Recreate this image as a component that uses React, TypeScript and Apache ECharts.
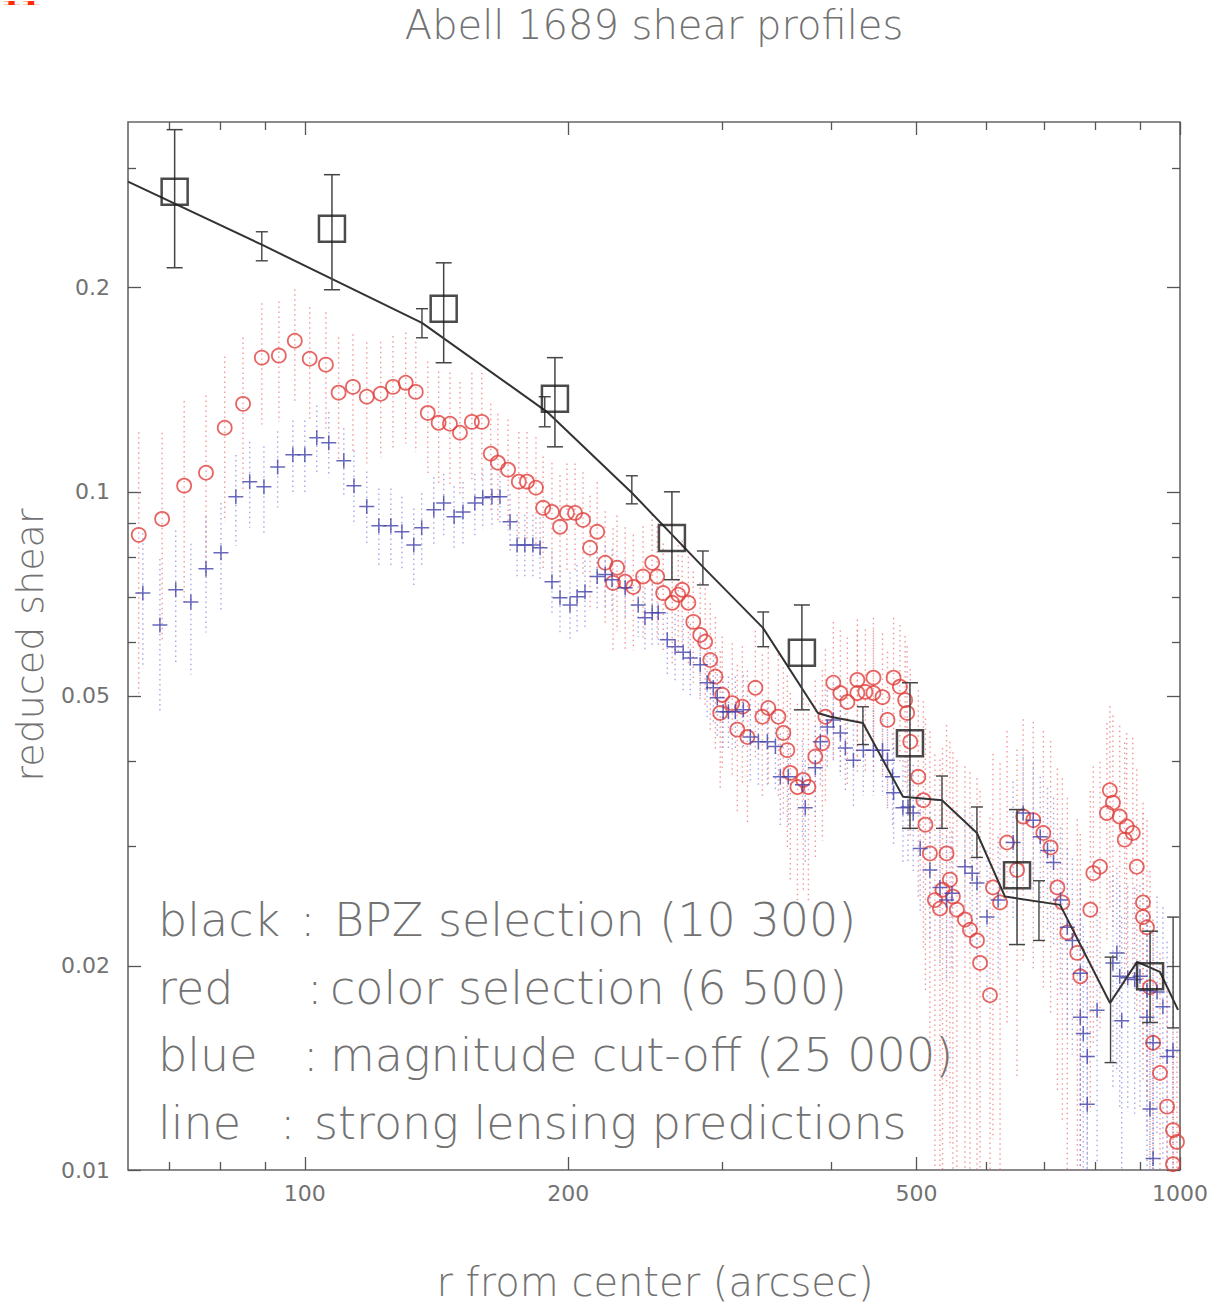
import React, { useEffect, useRef } from "react";
import * as echarts from "echarts";

// Abell 1689 reduced shear profiles, log-log.

// Axis ranges (r in arcsec, reduced shear)
const R_MIN = 62.8;
const R_MAX = 1000;
const G_MIN = 0.01;
const G_MAX = 0.351;

// Tick values
const xMajorTicks = [100, 200, 500, 1000];
const xMinorTicks = [70, 80, 90, 300, 400, 600, 700, 800, 900];
const yMajorTicks = [0.01, 0.02, 0.05, 0.1, 0.2];
const yMinorTicks = [0.03, 0.04, 0.06, 0.07, 0.08, 0.09, 0.3];

// Red: color selection
const redR = [
  64.6, 68.7, 72.8, 77.1, 81.0, 85.0, 89.3, 93.4, 97.4, 101.3,
  105.7, 109.3, 113.5, 117.7, 122.1, 126.1, 130.4, 133.9, 138.2, 142.2,
  146.5, 150.4, 155.2, 159.3, 163.1, 166.2, 170.7, 175.6, 179.4, 183.7,
  187.2, 191.6, 195.7, 199.3, 203.6, 207.9, 211.8, 215.8, 220.4, 225.0,
  227.4, 232.3, 237.3, 243.5, 249.4, 252.7, 256.7, 262.9, 267.1, 269.9,
  274.3, 277.9, 283.0, 286.7, 290.6, 294.5, 298.3, 299.9, 307.9, 312.0,
  316.2, 320.4, 327.2, 333.3, 338.5, 347.6, 352.2, 355.9, 358.7, 365.5,
  371.2, 376.2, 383.1, 390.3, 393.4, 401.7, 409.2, 416.8, 427.9, 427.9,
  437.0, 446.4, 446.4, 457.2, 463.2, 470.7, 478.6, 485.2, 487.8, 491.8,
  502.3, 509.1, 511.8, 517.9, 524.7, 531.8, 535.4, 541.1, 545.9, 550.2,
  556.0, 567.9, 575.4, 586.2, 590.9, 606.6, 611.4, 622.9, 634.4, 651.4,
  661.9, 679.7, 698.0, 711.5, 724.3, 733.8, 743.4, 763.2, 769.3, 789.8,
  796.1, 810.2, 825.0, 831.5, 838.2, 853.3, 864.6, 869.1, 883.2, 892.5,
  907.2, 907.2, 916.8, 924.0, 931.6, 948.7, 966.6, 981.8, 992.1, 981.8,
];
const redG = [
  0.0864, 0.0912, 0.1021, 0.1067, 0.1243, 0.1348, 0.1577, 0.1588, 0.167, 0.1571,
  0.154, 0.14, 0.1428, 0.1381, 0.1395, 0.1428, 0.1448, 0.1404, 0.1307, 0.1264,
  0.126, 0.1222, 0.1268, 0.1268, 0.1138, 0.1104, 0.1078, 0.1035, 0.1035, 0.1014,
  0.0947, 0.0934, 0.0888, 0.0931, 0.0931, 0.0909, 0.0827, 0.0873, 0.0786, 0.0734,
  0.0773, 0.0737, 0.0724, 0.075, 0.0786, 0.075, 0.0709, 0.0686, 0.0705, 0.0717,
  0.0686, 0.0643, 0.0615, 0.0601, 0.0565, 0.0534, 0.0472, 0.0502, 0.0488, 0.0446,
  0.0482, 0.0435, 0.0514, 0.0466, 0.048, 0.0466, 0.0441, 0.0416, 0.0385, 0.0367,
  0.0376, 0.0367, 0.0407, 0.0426, 0.0466, 0.0523, 0.0505, 0.049, 0.0528, 0.0505,
  0.0507, 0.0532, 0.0505, 0.0498, 0.0461, 0.0532, 0.0516, 0.0493, 0.0472, 0.0428,
  0.038, 0.0351, 0.0323, 0.0293, 0.025, 0.0243, 0.0259, 0.0293, 0.0268, 0.0253,
  0.0242, 0.0234, 0.0226, 0.0218, 0.0202, 0.0181, 0.0261, 0.0248, 0.0304, 0.0277,
  0.0332, 0.0328, 0.0314, 0.0299, 0.0261, 0.0248, 0.0224, 0.0209, 0.0193, 0.0242,
  0.0274, 0.028, 0.0336, 0.0363, 0.0348, 0.0332, 0.0307, 0.0321, 0.0314, 0.028,
  0.0248, 0.0236, 0.0228, 0.0186, 0.0154, 0.0139, 0.0124, 0.01145, 0.011, 0.0102,
];
const redErr = [
  0.036, 0.031, 0.034, 0.032, 0.034, 0.034, 0.032, 0.032, 0.032, 0.03,
  0.03, 0.029, 0.028, 0.028, 0.027, 0.027, 0.027, 0.026, 0.025, 0.024,
  0.024, 0.023, 0.023, 0.023, 0.021, 0.02, 0.02, 0.019, 0.019, 0.019,
  0.018, 0.017, 0.017, 0.017, 0.017, 0.016, 0.016, 0.016, 0.015, 0.015,
  0.015, 0.015, 0.014, 0.014, 0.014, 0.014, 0.013, 0.013, 0.013, 0.013,
  0.013, 0.012, 0.012, 0.012, 0.012, 0.012, 0.011, 0.011, 0.011, 0.011,
  0.011, 0.011, 0.011, 0.011, 0.011, 0.011, 0.011, 0.012, 0.012, 0.012,
  0.012, 0.012, 0.012, 0.012, 0.012, 0.012, 0.012, 0.012, 0.012, 0.012,
  0.012, 0.012, 0.012, 0.012, 0.012, 0.012, 0.012, 0.012, 0.012, 0.012,
  0.013, 0.014, 0.014, 0.015, 0.016, 0.016, 0.016, 0.016, 0.016, 0.016,
  0.016, 0.016, 0.016, 0.016, 0.016, 0.015, 0.015, 0.015, 0.014, 0.014,
  0.013, 0.013, 0.013, 0.013, 0.013, 0.013, 0.013, 0.012, 0.012, 0.012,
  0.012, 0.012, 0.012, 0.012, 0.012, 0.012, 0.012, 0.012, 0.012, 0.011,
  0.01, 0.01, 0.01, 0.009, 0.008, 0.007, 0.006, 0.005, 0.005, 0.005,
];

// Blue: magnitude cut-off
const blueR = [
  65.3, 68.3, 71.2, 74.1, 77.1, 80.2, 83.4, 86.5, 89.8, 93.1,
  96.9, 100.0, 103.2, 106.5, 110.8, 113.8, 117.7, 121.5, 125.4, 129.1,
  133.2, 136.0, 140.4, 144.1, 148.1, 151.6, 156.4, 159.7, 163.6, 167.1,
  171.6, 174.8, 178.4, 182.2, 185.7, 191.6, 195.7, 200.9, 204.7, 209.0,
  215.8, 220.4, 224.4, 232.3, 240.4, 244.7, 249.4, 253.4, 259.5, 264.9,
  270.6, 275.7, 283.0, 288.2, 292.9, 296.0, 300.6, 304.8, 310.4, 317.0,
  322.9, 329.8, 337.7, 344.9, 349.4, 356.8, 370.3, 373.1, 383.1, 388.2,
  395.4, 401.7, 409.2, 414.6, 423.5, 434.7, 446.4, 457.2, 463.2, 469.4,
  470.7, 482.4, 488.9, 495.6, 504.8, 517.9, 531.8, 541.1, 548.8, 567.9,
  578.8, 586.2, 601.8, 619.7, 644.6, 661.9, 679.7, 692.3, 705.7, 717.0,
  730.2, 743.4, 753.4, 769.3, 769.3, 775.3, 783.5, 783.5, 804.0, 838.2,
  847.0, 853.3, 857.8, 871.5, 887.6, 900.0, 916.8, 916.8, 931.6, 941.4,
  956.0, 966.6, 981.8, 924.0, 931.6,
];
const blueG = [
  0.0709, 0.0636, 0.0717, 0.0688, 0.077, 0.0813, 0.0983, 0.1035, 0.1017, 0.1088,
  0.1134, 0.1134, 0.1201, 0.1181, 0.1111, 0.1021, 0.0951, 0.0891, 0.0891, 0.0873,
  0.0835, 0.0885, 0.0941, 0.0963, 0.0919, 0.0934, 0.0963, 0.098, 0.0983, 0.0983,
  0.0903, 0.0835, 0.0835, 0.0835, 0.0827, 0.0737, 0.0698, 0.0681, 0.07, 0.0712,
  0.075, 0.0755, 0.0742, 0.0722, 0.0681, 0.0652, 0.0663, 0.0663, 0.0605, 0.0591,
  0.058, 0.0569, 0.0556, 0.0523, 0.0514, 0.0497, 0.0474, 0.0474, 0.0474, 0.0477,
  0.0435, 0.0428, 0.0428, 0.0421, 0.038, 0.038, 0.037, 0.0342, 0.0392, 0.0428,
  0.045, 0.0461, 0.0441, 0.0419, 0.0402, 0.0416, 0.0416, 0.0416, 0.0402, 0.038,
  0.036, 0.0342, 0.0343, 0.0336, 0.0298, 0.0277, 0.0261, 0.025, 0.0256, 0.028,
  0.0274, 0.0265, 0.0236, 0.025, 0.0304, 0.0336, 0.0328, 0.031, 0.0296, 0.0284,
  0.025, 0.0228, 0.0218, 0.0195, 0.0168, 0.0159, 0.0147, 0.0125, 0.0172, 0.0202,
  0.0209, 0.0193, 0.0166, 0.0192, 0.0191, 0.0193, 0.0184, 0.0168, 0.0154, 0.0183,
  0.0174, 0.0147, 0.015, 0.0123, 0.0104,
];
const blueErr = [
  0.016, 0.016, 0.016, 0.015, 0.015, 0.015, 0.015, 0.015, 0.015, 0.014,
  0.014, 0.014, 0.014, 0.013, 0.013, 0.013, 0.012, 0.012, 0.012, 0.011,
  0.011, 0.011, 0.011, 0.01, 0.01, 0.01, 0.01, 0.01, 0.01, 0.009,
  0.009, 0.009, 0.009, 0.009, 0.009, 0.008, 0.008, 0.008, 0.008, 0.008,
  0.008, 0.008, 0.008, 0.007, 0.007, 0.007, 0.007, 0.007, 0.007, 0.007,
  0.007, 0.007, 0.006, 0.006, 0.006, 0.006, 0.006, 0.006, 0.006, 0.006,
  0.006, 0.006, 0.006, 0.006, 0.006, 0.006, 0.006, 0.006, 0.006, 0.006,
  0.006, 0.006, 0.006, 0.006, 0.006, 0.006, 0.006, 0.006, 0.006, 0.006,
  0.006, 0.006, 0.006, 0.006, 0.006, 0.006, 0.006, 0.006, 0.006, 0.006,
  0.006, 0.006, 0.006, 0.006, 0.007, 0.007, 0.007, 0.007, 0.007, 0.007,
  0.007, 0.007, 0.007, 0.007, 0.007, 0.007, 0.007, 0.007, 0.007, 0.007,
  0.007, 0.007, 0.007, 0.007, 0.007, 0.007, 0.007, 0.007, 0.007, 0.007,
  0.007, 0.007, 0.006, 0.005, 0.004,
];

// Black: BPZ selection, with upper and lower error limits
const bpzR = [71.0, 107.4, 144.1, 193.1, 262.7, 369.8, 491.4, 651.3, 924.3];
const bpzG = [0.277, 0.2443, 0.1862, 0.1372, 0.0855, 0.0579, 0.0426, 0.0272, 0.0193];
const bpzHi = [0.342, 0.2935, 0.2176, 0.1577, 0.1, 0.0681, 0.0523, 0.034, 0.0225];
const bpzLo = [0.214, 0.1986, 0.155, 0.1165, 0.0742, 0.0477, 0.0319, 0.0215, 0.0165];

// Strong lensing prediction curve
const lensR = [
  62.8, 89.3, 136.1, 189.1, 236.4, 285.0, 333.8, 385.7, 398.6, 434.2,
  482.5, 534.6, 586.1, 631.0, 729.5, 831.8, 893.2, 948.7, 994.8,
];
const lensG = [
  0.2866, 0.2314, 0.1775, 0.1312, 0.0997, 0.0775, 0.063, 0.0472, 0.0466, 0.0456,
  0.0355, 0.0351, 0.0314, 0.0253, 0.0246, 0.01763, 0.02027, 0.01959, 0.01722,
];
// Prediction uncertainties at selected radii
const lensErrR = [89.3, 136.1, 188.0, 236.4, 285.0, 334.0, 434.2, 534.6, 586.1, 690.0, 833.0, 982.0];
const lensErrHi = [0.2418, 0.1862, 0.1381, 0.1056, 0.0818, 0.0665, 0.0482, 0.0381, 0.0343, 0.0267, 0.0206, 0.0236];
const lensErrLo = [0.2191, 0.1687, 0.1247, 0.096, 0.0729, 0.0591, 0.0424, 0.0319, 0.0289, 0.0218, 0.0144, 0.0162];

const L = (v: number) => Math.log10(v);
const clampG = (v: number) => Math.min(Math.max(v, G_MIN), G_MAX);

const FONT = "DejaVu Sans";
const TEXT_GRAY = "#727272";

const pts = (r: number[], g: number[]) => r.map((v, i) => [L(v), L(g[i])]);
const symBars = (r: number[], g: number[], e: number[]) =>
  r.map((v, i) => [L(v), L(clampG(g[i] - e[i])), L(clampG(g[i] + e[i]))]);
const limBars = (r: number[], lo: number[], hi: number[]) =>
  r.map((v, i) => [L(v), L(clampG(lo[i])), L(clampG(hi[i]))]);

const dottedBar = (color: string) => (_p: any, api: any) => {
  const a = api.coord([api.value(0), api.value(2)]);
  const b = api.coord([api.value(0), api.value(1)]);
  return {
    type: "line",
    shape: { x1: a[0], y1: a[1], x2: b[0], y2: b[1] },
    style: { stroke: color, lineWidth: 1.4, lineDash: [1.5, 3.5] },
    silent: true,
  };
};

const cappedBar = (color: string, cap: number, width: number) => (_p: any, api: any) => {
  const a = api.coord([api.value(0), api.value(2)]);
  const b = api.coord([api.value(0), api.value(1)]);
  const style = { stroke: color, lineWidth: width };
  return {
    type: "group",
    silent: true,
    children: [
      { type: "line", shape: { x1: a[0], y1: a[1], x2: b[0], y2: b[1] }, style },
      { type: "line", shape: { x1: a[0] - cap, y1: a[1], x2: a[0] + cap, y2: a[1] }, style },
      { type: "line", shape: { x1: b[0] - cap, y1: b[1], x2: b[0] + cap, y2: b[1] }, style },
    ],
  };
};

const tickStyle = { color: "#555", width: 1.3 };

function xAxisDef(position: string, ticks: number[], len: number, labels: boolean) {
  return {
    type: "value",
    position,
    min: L(R_MIN),
    max: L(R_MAX),
    axisLine: { show: false },
    splitLine: { show: false },
    axisTick: { show: true, inside: true, length: len, customValues: ticks.map(L), lineStyle: tickStyle },
    axisLabel: labels
      ? {
          show: true,
          customValues: ticks.map(L),
          formatter: (v: number) => String(Math.round(Math.pow(10, v))),
          margin: 12,
          fontFamily: FONT,
          fontSize: 22,
          color: TEXT_GRAY,
          showMinLabel: true,
          showMaxLabel: true,
        }
      : { show: false },
  };
}

function yAxisDef(position: string, ticks: number[], len: number, labels: boolean) {
  return {
    type: "value",
    position,
    min: L(G_MIN),
    max: L(G_MAX),
    axisLine: { show: false },
    splitLine: { show: false },
    axisTick: { show: true, inside: true, length: len, customValues: ticks.map(L), lineStyle: tickStyle },
    axisLabel: labels
      ? {
          show: true,
          customValues: ticks.map(L),
          formatter: (v: number) => String(Number(Math.pow(10, v).toPrecision(2))),
          margin: 18,
          fontFamily: FONT,
          fontSize: 22,
          color: TEXT_GRAY,
          showMinLabel: true,
          showMaxLabel: true,
        }
      : { show: false },
  };
}

const legendRows = [
  { key: "black", keyX: 158, colonX: 300, rest: "BPZ selection (10 300)", restX: 334, y: 920 },
  { key: "red", keyX: 158, colonX: 307, rest: "color selection (6 500)", restX: 330, y: 988 },
  { key: "blue", keyX: 158, colonX: 303, rest: "magnitude cut-off (25 000)", restX: 330, y: 1055 },
  { key: "line", keyX: 158, colonX: 280, rest: "strong lensing predictions", restX: 314, y: 1123 },
];

function textEl(text: string, x: number, y: number, size: number, align = "left", extra: any = {}) {
  return {
    type: "text",
    x,
    y,
    silent: true,
    ...extra,
    style: {
      text,
      fontFamily: FONT,
      fontSize: size,
      fontWeight: 200,
      fill: TEXT_GRAY,
      align,
      verticalAlign: "middle",
      ...(extra.style || {}),
    },
  };
}

export default function App() {
  const ref = useRef<HTMLDivElement>(null);

  useEffect(() => {
    if (!ref.current) return;
    const chart = echarts.init(ref.current, undefined, { renderer: "svg" });

    const graphics: any[] = [
      textEl("Abell 1689 shear profiles", 654, 25, 40, "center"),
      textEl("reduced shear", 30, 645, 38, "center", { rotation: Math.PI / 2 }),
      textEl("r from center (arcsec)", 655, 1282, 40, "center"),
      // page number sliver in the top-left corner
      {
        type: "text",
        x: 0,
        y: 3,
        scaleX: 1,
        scaleY: 0.12,
        silent: true,
        style: {
          text: "11",
          fontFamily: "Liberation Serif",
          fontWeight: "bold",
          fontSize: 44,
          fill: "#ff2a00",
          align: "left",
          verticalAlign: "middle",
        },
      },
    ];
    legendRows.forEach((row) => {
      graphics.push(textEl(row.key, row.keyX, row.y, 46));
      graphics.push(textEl(":", row.colonX, row.y, 46));
      graphics.push(textEl(row.rest, row.restX, row.y, 46));
    });

    chart.setOption({
      animation: false,
      backgroundColor: "#ffffff",
      grid: {
        left: 128,
        top: 122,
        right: 38,
        bottom: 136,
        show: true,
        borderColor: "#666",
        borderWidth: 1.6,
        backgroundColor: "transparent",
      },
      xAxis: [
        xAxisDef("bottom", xMajorTicks, 13, true),
        xAxisDef("bottom", xMinorTicks, 8, false),
        xAxisDef("top", xMajorTicks, 13, false),
        xAxisDef("top", xMinorTicks, 8, false),
      ],
      yAxis: [
        yAxisDef("left", yMajorTicks, 13, true),
        yAxisDef("left", yMinorTicks, 8, false),
        yAxisDef("right", yMajorTicks, 13, false),
        yAxisDef("right", yMinorTicks, 8, false),
      ],
      series: [
        {
          name: "red errors",
          type: "custom",
          renderItem: dottedBar("rgba(235,110,110,0.7)"),
          data: symBars(redR, redG, redErr),
          encode: { x: 0, y: [1, 2] },
          silent: true,
          z: 1,
        },
        {
          name: "blue errors",
          type: "custom",
          renderItem: dottedBar("rgba(120,120,220,0.65)"),
          data: symBars(blueR, blueG, blueErr),
          encode: { x: 0, y: [1, 2] },
          silent: true,
          z: 1,
        },
        {
          name: "color selection",
          type: "scatter",
          data: pts(redR, redG),
          symbol: "circle",
          symbolSize: 14,
          itemStyle: { color: "transparent", borderColor: "#e0403c", borderWidth: 1.8 },
          silent: true,
          z: 2,
        },
        {
          name: "magnitude cut-off",
          type: "scatter",
          data: pts(blueR, blueG),
          symbol: "path://M0,6L12,6M6,0L6,12",
          symbolSize: 15,
          itemStyle: { color: "transparent", borderColor: "#4242aa", borderWidth: 1.5 },
          silent: true,
          z: 3,
        },
        {
          name: "strong lensing predictions",
          type: "line",
          data: pts(lensR, lensG),
          showSymbol: false,
          symbol: "none",
          lineStyle: { color: "#333", width: 2 },
          silent: true,
          z: 4,
        },
        {
          name: "prediction errors",
          type: "custom",
          renderItem: cappedBar("#444", 6, 1.4),
          data: limBars(lensErrR, lensErrLo, lensErrHi),
          encode: { x: 0, y: [1, 2] },
          silent: true,
          z: 4,
        },
        {
          name: "BPZ errors",
          type: "custom",
          renderItem: cappedBar("#444", 8, 1.5),
          data: limBars(bpzR, bpzLo, bpzHi),
          encode: { x: 0, y: [1, 2] },
          silent: true,
          z: 5,
        },
        {
          name: "BPZ selection",
          type: "scatter",
          data: pts(bpzR, bpzG),
          symbol: "rect",
          symbolSize: 26,
          itemStyle: { color: "transparent", borderColor: "#1e1e1e", borderWidth: 2.5 },
          silent: true,
          z: 6,
        },
      ],
      graphic: graphics,
    });

    return () => chart.dispose();
  }, []);

  return (
    <div
      ref={ref}
      style={{ position: "fixed", left: 0, top: 0, width: 1218, height: 1306, background: "#fff" }}
    />
  );
}
